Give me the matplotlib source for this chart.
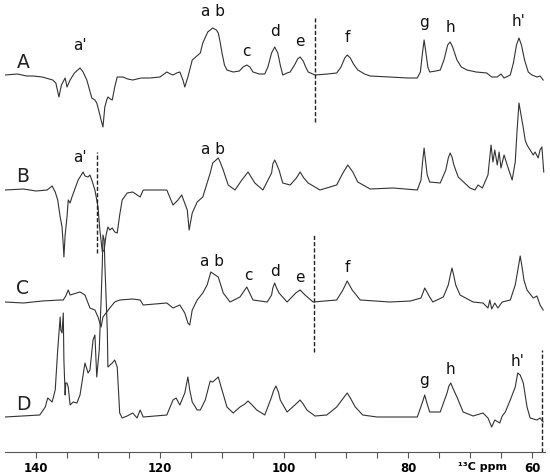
import numpy as np
import matplotlib
matplotlib.use("Agg")
import matplotlib.pyplot as plt

# chemical shift (ppm) and intensity (arb. units)
ppm_A = [145.0, 143.0, 141.5, 140.5, 139.0, 137.3, 136.8, 136.3, 135.9, 135.3, 135.0, 134.5, 133.8,
         132.9, 132.4, 131.8, 131.0, 130.5, 130.2, 129.9, 129.5, 129.2, 128.9, 128.6, 128.4, 128.0,
         127.7, 127.3, 126.9, 126.0, 125.2, 124.4, 123.0, 121.6, 120.0, 118.9, 118.3, 117.9, 117.3,
         116.8, 116.3, 116.0, 115.7, 115.5, 115.0, 114.8, 113.5, 113.1, 112.3, 111.5, 110.9, 110.6,
         110.3, 110.0, 109.6, 109.2, 108.2, 107.2, 106.6, 106.0, 105.5, 105.0, 104.0, 103.1, 102.6,
         102.0, 101.5, 101.0, 100.6, 100.2, 99.5, 99.0, 98.3, 97.8, 97.4, 96.9, 96.5, 96.1, 95.0,
         93.0, 91.5, 90.8, 90.2, 89.8, 89.3, 88.8, 88.1, 87.0, 86.1, 83.0, 80.0, 78.5, 78.0, 77.7,
         77.4, 77.1, 76.8, 76.5, 75.5, 74.8, 74.2, 73.6, 73.2, 72.8, 72.1, 71.4, 70.5, 69.0, 67.3,
         66.5, 65.6, 65.0, 64.5, 63.5, 63.0, 62.5, 62.1, 61.7, 61.2, 60.6, 60.0, 59.2, 58.7, 58.2]
int_A = [0, 1, -1, -1, -2, -5, -8, -22, -10, -3, -12, -5, 2,
         7, 3, -5, -23, -25, -28, -35, -45, -52, -32, -25, -22, -24,
         -25, -12, -2, -2, -4, -5, -3, -3, -2, 3, 1, 0, 2,
         3, -5, -12, -6, -2, 10, 15, 22, 32, 43, 47, 45, 42,
         33, 22, 10, 5, 3, 4, 8, 10, 8, 3, 1, 1, 8,
         22, 28, 22, 10, 0, 2, 3, 10, 16, 18, 14, 8, 3, 0,
         1, 2, 8, 17, 20, 17, 11, 5, 1, -1, -2, -3, -3, 3, 20,
         35, 22, 8, 3, 4, 5, 15, 30, 33, 28, 15, 8, 5, 3, 2,
         -2, -2, 1, -3, 0, 12, 30, 37, 30, 15, 3, 0, -2, -1, -5]

ppm_B = [145.0, 142.0, 140.0, 138.2, 137.4, 136.9, 136.5, 136.1, 135.8, 135.6, 135.5, 135.3, 135.0,
         134.8, 134.5, 134.2, 133.2, 132.4, 132.1, 131.6, 131.3, 131.0, 130.5, 130.2, 130.0, 129.7,
         129.3, 129.0, 128.7, 128.4, 128.1, 127.7, 127.3, 126.9, 126.5, 126.1, 125.3, 124.4, 123.2,
         122.7, 118.9, 117.9, 117.1, 116.5, 115.6, 115.3, 114.8, 114.0, 113.1, 111.9, 111.5, 110.6,
         110.3, 109.8, 109.0, 107.9, 106.8, 105.8, 104.7, 103.4, 102.0, 101.8, 101.5, 101.2, 100.8,
         100.2, 99.0, 98.0, 97.4, 96.8, 96.1, 94.2, 91.5, 90.5, 89.7, 88.9, 88.1, 86.1, 82.4, 78.5,
         77.9, 77.65, 77.4, 77.15, 76.9, 76.5, 74.8, 73.9, 73.5, 73.2, 72.9, 72.6, 71.9, 70.0, 69.2,
         68.7, 68.0, 67.1, 66.6, 66.3, 66.0, 65.6, 65.3, 65.0, 64.5, 64.0, 63.2, 62.7, 62.4, 62.1,
         61.4, 61.1, 60.8, 60.3, 59.8, 59.5, 59.0, 58.7, 58.4, 58.1]
int_B = [0, 1, -1, 0, 4, -2, -10, -27, -37, -55, -67, -45, -27,
         -10, -13, -7, 10, 18, 14, 13, 15, 10, 0, -10, -17, -40,
         -62, -60, -45, -37, -40, -38, -42, -43, -25, -10, -3, -2, -7,
         0, 0, -15, -10, -5, -20, -40, -23, -12, -7, 17, 27, 32,
         28, 20, 5, 0, 10, 18, 7, 0, 17, 26, 30, 26, 20,
         7, 5, 12, 18, 12, 7, 0, 5, 17, 25, 18, 8, 1, 2, 0,
         10, 28, 42, 28, 15, 8, 7, 20, 32, 37, 33, 25, 13, 2, 0,
         5, 2, 15, 45, 28, 40, 25, 38, 22, 35, 25, 10, 28, 60, 87,
         62, 50, 45, 40, 35, 38, 32, 40, 43, 18]

ppm_C = [145.0, 142.0, 139.0, 136.1, 135.6, 135.2, 134.8, 134.5, 132.9, 132.1, 131.3, 130.5, 130.0,
         129.5, 129.2, 128.7, 128.1, 127.3, 126.5, 124.4, 123.2, 122.7, 118.9, 117.9, 116.8, 116.0,
         115.5, 115.2, 114.8, 114.0, 113.1, 112.4, 111.8, 111.1, 110.6, 109.8, 108.7, 107.1, 106.0,
         105.0, 102.7, 102.0, 101.8, 101.5, 101.2, 100.8, 99.5, 98.1, 97.4, 96.6, 95.3, 91.5, 90.5,
         89.8, 89.0, 87.7, 82.9, 79.6, 77.9, 77.3, 76.6, 76.0, 74.3, 73.5, 73.2, 72.9, 72.6, 72.3,
         71.6, 69.5, 67.9, 67.1, 66.8, 66.5, 66.0, 65.5, 64.8, 63.5, 62.7, 62.2, 61.9, 61.6, 61.3,
         60.8, 59.8, 59.2, 58.7, 58.2]
int_C = [0, -1, 1, 2, 2, 6, 12, 7, 10, 7, -6, -8, -15,
         -25, -15, -11, -6, 0, 2, 3, 2, -3, -1, -6, -3, -11,
         -21, -23, -8, 2, 9, 17, 30, 27, 25, 9, 0, 5, 15,
         2, 0, 7, 14, 19, 14, 9, 0, 9, 12, 7, 0, 2, 12,
         21, 12, 2, 0, 1, 4, 14, 6, 0, 5, 17, 26, 34, 26, 17,
         7, 0, -1, -6, 2, -7, -1, -6, 0, 2, 17, 35, 46, 35, 22,
         12, 4, 6, -3, -8]

ppm_D = [145.0, 139.4, 138.5, 138.2, 138.1, 137.4, 136.9, 136.5, 136.1, 136.0, 135.8, 135.6, 135.5,
         135.3, 135.2, 135.0, 134.8, 134.5, 134.0, 133.4, 132.9, 132.1, 131.6, 131.3, 130.8, 130.5,
         130.2, 129.8, 129.5, 129.3, 129.2, 129.0, 128.9, 128.5, 128.4, 127.7, 127.3, 126.9, 126.5,
         126.1, 125.3, 124.4, 123.7, 123.2, 122.7, 118.9, 117.9, 117.4, 116.8, 116.0, 115.5, 115.2,
         114.8, 114.0, 113.5, 112.7, 111.9, 111.5, 110.6, 110.0, 109.2, 108.2, 107.1, 106.3, 105.8,
         105.3, 104.4, 103.1, 102.0, 101.7, 101.3, 100.9, 100.6, 99.5, 98.6, 97.9, 97.4, 96.9, 96.3,
         95.0, 93.1, 91.5, 90.3, 89.8, 89.3, 88.5, 87.3, 85.0, 78.5, 78.1, 77.6, 77.3, 77.0, 76.5,
         74.8, 73.7, 73.4, 73.1, 72.7, 72.1, 71.1, 69.5, 67.9, 67.1, 66.5, 66.0, 65.2, 64.8, 64.3,
         63.5, 62.7, 62.3, 61.9, 61.4, 60.8, 60.3, 59.2, 58.7, 58.2]
int_D = [0, 2, 10, 17, 19, 15, 27, 67, 100, 87, 84, 104, 57,
         22, 34, 34, 30, 12, 15, 14, 22, 54, 44, 47, 77, 82,
         40, 67, 117, 154, 182, 177, 154, 87, 50, 54, 57, 50, 4,
         -1, 1, 4, -1, 7, 0, 2, 17, 19, 12, 24, 40, 27,
         15, 7, 7, 17, 36, 35, 40, 27, 10, 4, 10, 13, 16,
         13, 7, 2, 20, 26, 31, 25, 17, 5, 10, 14, 17, 13, 7,
         1, 2, 10, 20, 24, 19, 10, 2, 0, 0, 7, 16, 22, 15, 5,
         5, 24, 31, 34, 28, 20, 5, 1, 4, -1, -10, -3, -6, 1, 5,
         17, 30, 44, 42, 34, 10, -1, -3, -1, -5]

spectra = [("A", ppm_A, int_A), ("B", ppm_B, int_B), ("C", ppm_C, int_C), ("D", ppm_D, int_D)]

# dashed markers: ppm and vertical extent relative to each trace baseline
dash_ppm = [95.0, 130.2, 95.1, 58.4]
dash_lo = [-47, -63, -50, -35]
dash_hi = [57, 38, 67, 67]

# peak assignments: (spectrum, text, ppm, height above baseline)
peak_labels = [
    ("A", "a'", 132.9, 30), ("A", "a b", 111.5, 63), ("A", "c", 106.0, 23), ("A", "d", 101.5, 43),
    ("A", "e", 97.4, 34), ("A", "f", 89.8, 37), ("A", "g", 77.4, 52), ("A", "h", 73.2, 47),
    ("A", "h'", 62.1, 53),
    ("B", "a'", 132.9, 33), ("B", "a b", 111.4, 40),
    ("C", "a b", 111.6, 40), ("C", "c", 105.8, 27), ("C", "d", 101.5, 30), ("C", "e", 97.4, 24),
    ("C", "f", 89.8, 34),
    ("D", "g", 77.4, 37), ("D", "h", 73.2, 47), ("D", "h'", 62.4, 55),
]

offsets = {"A": 377, "B": 262, "C": 150, "D": 35}

fig = plt.figure(figsize=(5.5, 4.74), dpi=100)
ax = fig.add_axes([5 / 550, 22 / 474, 540 / 550, 452 / 474])

line_col = "#333333"
for name, x, y in spectra:
    off = offsets[name]
    ax.plot(x, np.array(y) + off, color=line_col, lw=0.8)
    ax.text(142.1, off + 13, name, fontsize=13.5, ha="center", va="center", color="#222222")

for name, p, lo, hi in zip("ABCD", dash_ppm, dash_lo, dash_hi):
    off = offsets[name]
    ax.plot([p, p], [off + lo, off + hi], color="#222222", lw=1.0, ls=(0, (3, 1.5)), clip_on=False)

for name, txt, p, h in peak_labels:
    ax.text(p, offsets[name] + h, txt, fontsize=11, ha="center", va="center", color="#111111")

ax.set_xlim(145.0, 57.9)
ax.set_ylim(0, 452)
for s in ["top", "left", "right"]:
    ax.spines[s].set_visible(False)
ax.spines["bottom"].set_color("#555555")
ax.spines["bottom"].set_linewidth(0.8)
ax.set_yticks([])
ax.set_xticks([140, 120, 100, 80, 60])
ax.set_xticks(np.arange(60, 145, 5), minor=True)
ax.tick_params(axis="x", which="both", direction="out", length=4, width=0.8, color="#555555",
               pad=3, labelsize=8.5)
for lab in ax.get_xticklabels():
    lab.set_fontweight("bold")
ax.text(68.0, -15, "¹³C ppm", fontsize=8, fontweight="bold", ha="center", va="center", clip_on=False)

fig.savefig("out.png", dpi=100)
